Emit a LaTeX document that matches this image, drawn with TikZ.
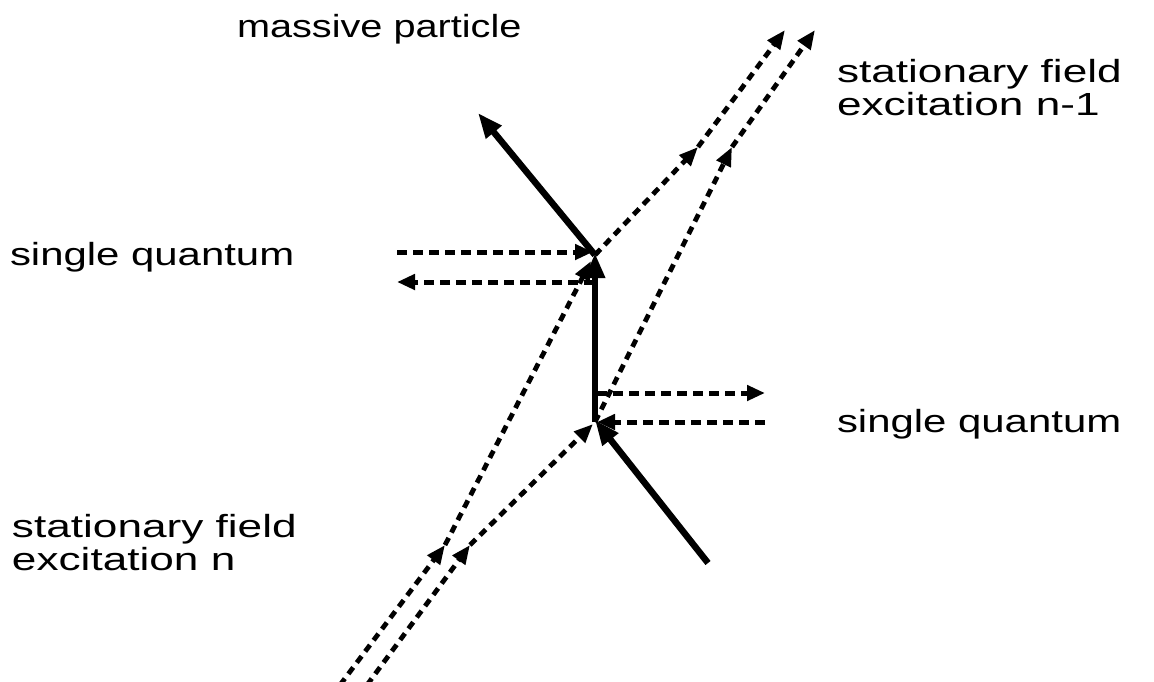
\documentclass[tikz,border=0pt]{standalone}
\usepackage{fontspec}
\setmainfont{Liberation Sans}
\newfontfamily\wideA[FakeStretch=1.31]{Liberation Sans}
\newfontfamily\wideB[FakeStretch=1.24]{Liberation Sans}
\newfontfamily\wideC[FakeStretch=1.38]{Liberation Sans}
\usetikzlibrary{arrows.meta}
\tikzset{
  lbl/.style={anchor=base west, inner sep=0pt, outer sep=0pt, align=left, font=\fontsize{32}{33}\selectfont},
  particle/.style={line width=6.5pt, -{Triangle[length=25pt,width=19pt]}},
  quantum/.style={line width=5pt, dash pattern=on 10pt off 6pt, -{Triangle[length=18pt,width=15pt]}},
  field/.style={line width=4.8pt, dash pattern=on 8pt off 6pt, -{Triangle[length=19pt,width=15pt]}},
}
\begin{document}
\begin{tikzpicture}[x=1pt,y=-1pt]
\useasboundingbox (0,0) rectangle (1154,681);
\clip (0,0) rectangle (1154,681);
% vertices
\coordinate (A) at (595,255);
\coordinate (B) at (595,422);
% massive particle
\coordinate (P0) at (708,563);
\coordinate (P3) at (478,113);
\coordinate (Atip) at (595,253);
\coordinate (Btip) at (595,420);
\draw[particle] (P0) -- (Btip);
\draw[particle] (B) -- (Atip);
\draw[particle] (A) -- (P3);
% single quanta left
\coordinate (QL1) at (397,252);
\coordinate (QA1) at (593,252);
\coordinate (QA2) at (594,282);
\coordinate (QL2) at (397,282);
\draw[quantum] (QL1) -- (QA1);
\draw[quantum] (QA2) -- (QL2);
% single quanta right
\coordinate (QB1) at (597,393);
\coordinate (QR1) at (765,393);
\coordinate (QR2) at (765,422);
\coordinate (QB2) at (597,422);
\draw[quantum] (QB1) -- (QR1);
\draw[quantum] (QR2) -- (QB2);
% stationary field lines
\coordinate (F1a) at (340,685);
\coordinate (F1b) at (445,545);
\coordinate (F1t) at (591,261);
\coordinate (F1c) at (698,147);
\coordinate (F1d) at (785,30);
\coordinate (F2a) at (367,685);
\coordinate (F2b) at (470,545);
\coordinate (F2t) at (593,424);
\coordinate (F2c) at (732,147);
\coordinate (F2d) at (815,30);
\draw[field] (F1a) -- (F1b);
\draw[field] (F1b) -- (F1t);
\draw[field] (A) -- (F1c);
\draw[field] (F1c) -- (F1d);
\draw[field] (F2a) -- (F2b);
\draw[field] (F2b) -- (F2t);
\draw[field] (B) -- (F2c);
\draw[field] (F2c) -- (F2d);
% labels
\node[lbl] (mp) at (237,37) {\wideB massive particle};
\node[lbl] (sql) at (10,265) {\wideA single quantum};
\node[lbl] (sqr) at (837,432) {\wideA single quantum};
\node[lbl] (sfu) at (837,115) {\wideC stationary field\\\wideC excitation n-1};
\node[lbl] (sfl) at (12,570) {\wideC stationary field\\\wideC excitation n};
\end{tikzpicture}
\end{document}
